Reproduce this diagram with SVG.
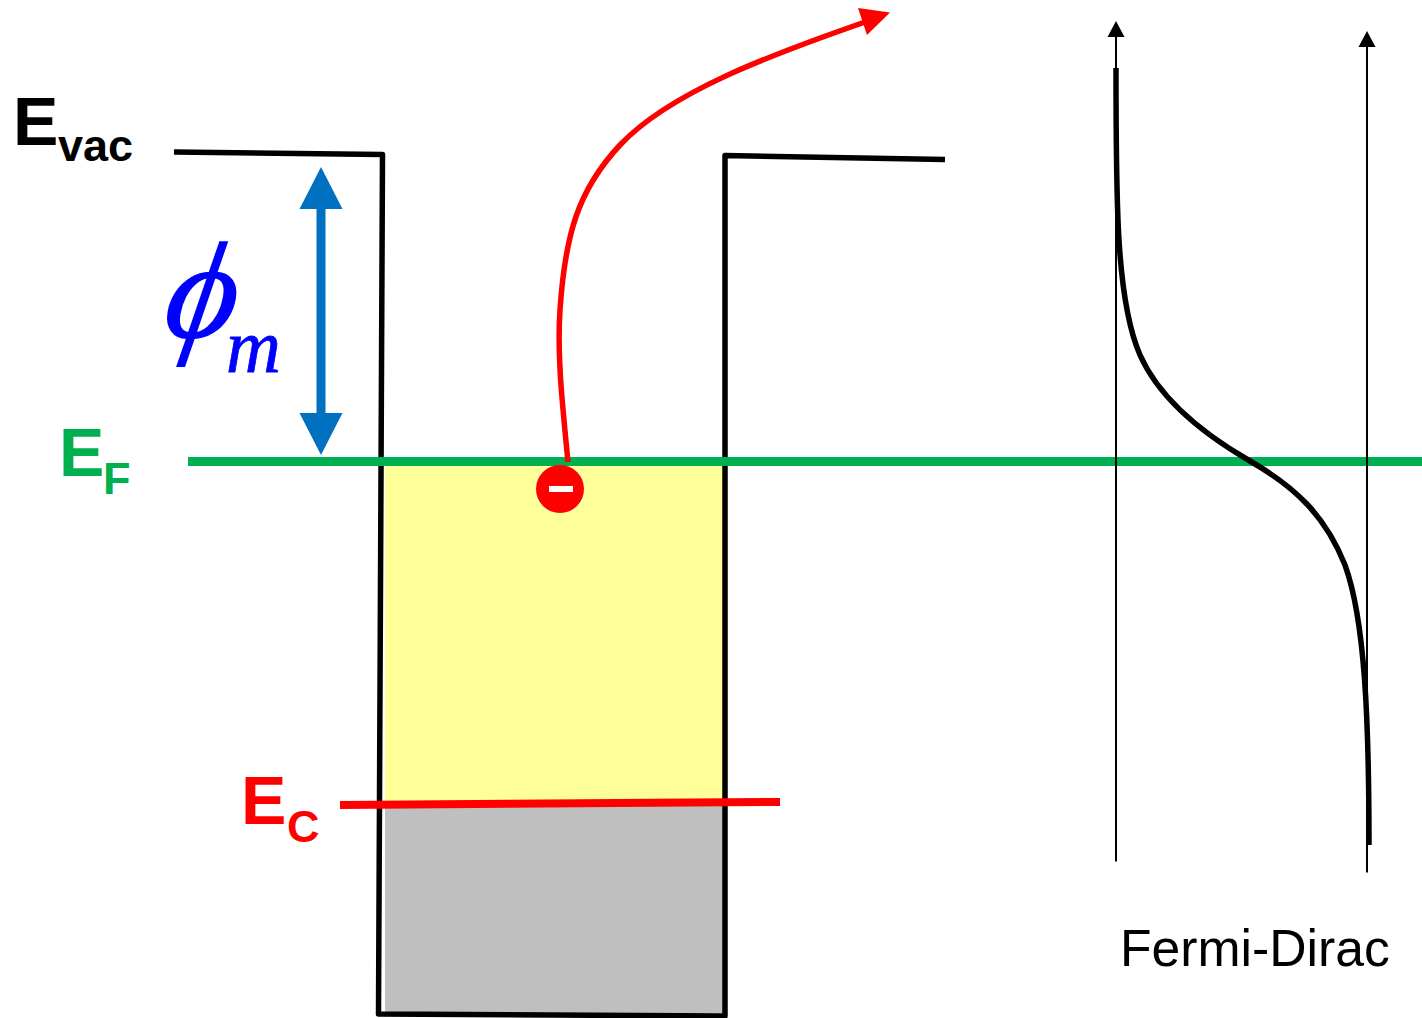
<svg xmlns="http://www.w3.org/2000/svg" width="1422" height="1018" viewBox="0 0 1422 1018">
<style>
.b{font-family:"Liberation Sans",Arial,sans-serif;font-weight:700}
.k{fill:none;stroke:#000;stroke-linejoin:round}
.i{font-family:"Liberation Serif","Times New Roman",serif;font-style:italic;fill:#0000ff;stroke:#0000ff}
</style>
<rect width="1422" height="1018" fill="#fff"/>
<g id="well">
<rect x="385" y="464" width="338" height="340" fill="#ffff99"/>
<rect x="385" y="804" width="338" height="209" fill="#bfbfbf"/>
</g>
<g id="connectors">
<path class="k" stroke-width="5.500" d="M174 152L382.500 154.500L378.500 1014L725 1016V155.500L945 159.500"/>
<path d="M188 461.500H1422" stroke="#00b050" stroke-width="9" fill="none"/>
<path d="M340 805L780 802" stroke="#ff0000" stroke-width="8" fill="none"/>
<path d="M321 205V417" stroke="#0070c0" stroke-width="9" fill="none"/>
<polygon points="321,167 342.500,209 299.500,209" fill="#0070c0"/>
<polygon points="321,455 342.500,413 299.500,413" fill="#0070c0"/>
<path d="M568 462C562 400 557 355 560 310C565 235 578 190 620 145C670 92 770 55 868 21" stroke="#ff0000" stroke-width="5.500" fill="none"/>
<polygon points="890,12.500 858,8 867,35" fill="#ff0000"/>
<path class="k" stroke-width="2" d="M1116 861.500V35"/>
<polygon points="1116,21 1124.500,37 1107.500,37" fill="#000"/>
<path class="k" stroke-width="2" d="M1367 872.500V45"/>
<polygon points="1367,31 1375.500,47 1358.500,47" fill="#000"/>
<path class="k" stroke-width="5.500" d="M1116 68C1116 200 1116 300 1140 355C1160 400 1205 435 1250 461C1295 487 1325 515 1345 565C1365 620 1369 720 1369 845"/>
</g>
<g id="electron">
<circle cx="560" cy="489" r="24" fill="#ff0000"/>
<rect x="549" y="486" width="24" height="6" fill="#fff"/>
</g>
<g id="evac"><text class="b" x="13" y="145" font-size="68" fill="#000">E</text><text class="b" x="58" y="161" font-size="45" fill="#000">vac</text></g>
<g id="ef"><text class="b" x="59" y="476" font-size="68" fill="#00b050">E</text><text class="b" x="103" y="494" font-size="45" fill="#00b050">F</text></g>
<g id="ec"><text class="b" x="241" y="824" font-size="68" fill="#ff0000">E</text><text class="b" x="287" y="842" font-size="45" fill="#ff0000">C</text></g>
<g id="phi"><text class="i" transform="translate(161 337) skewX(-9.500)" font-size="137" stroke-width="1.500">ϕ</text><text class="i" x="226" y="372" font-size="76" stroke-width="0.800">m</text></g>
<g id="fermi"><text x="1120" y="966" font-size="51.700" font-family="'Liberation Sans',Arial,sans-serif" fill="#000">Fermi-Dirac</text></g>
</svg>
